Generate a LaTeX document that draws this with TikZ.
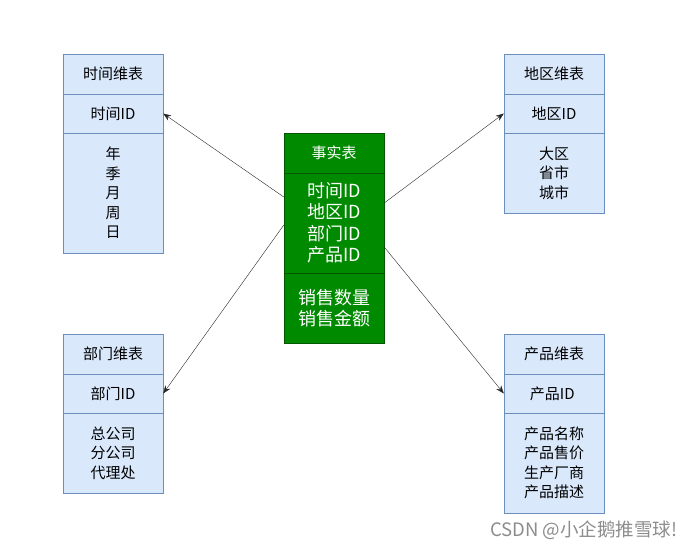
\documentclass[tikz,border=0pt]{standalone}
\usepackage{fontspec}
\setmainfont{Noto Sans CJK SC}
\usetikzlibrary{arrows.meta}
\definecolor{dimfill}{HTML}{DAE8FC}
\definecolor{dimline}{HTML}{6C8EBF}
\definecolor{factfill}{HTML}{008A00}
\definecolor{factline}{HTML}{005700}
\tikzset{
    dimrow/.style={draw=dimline, fill=dimfill, minimum width=100pt, inner sep=0pt,
        align=center, font=\fontsize{15}{19.5}\selectfont},
    factrow/.style={draw=factline, fill=factfill, text=white, minimum width=100pt,
        inner sep=0pt, align=center, font=\fontsize{18}{21.5}\selectfont},
    link/.style={draw=black!85, -{Stealth[length=8pt,width=6pt]}}
}
\begin{document}
\begin{tikzpicture}[
    x=1pt,
    y=-1pt
]
\useasboundingbox (0,0) rectangle (694,550);

% Dimension tables: title and key rows
\foreach \nm/\px/\py/\ttl/\kid in {
    time/113/54/时间维表/时间ID,
    area/554/54/地区维表/地区ID,
    dept/113/334/部门维表/部门ID,
    prod/554/334/产品维表/产品ID
} {
    \node[dimrow, minimum height=40pt] (\nm-head) at (\px,\py+20) {\ttl};
    \node[dimrow, minimum height=39pt] (\nm-key) at (\px,\py+59.5) {\kid};
}

% Dimension tables: attribute rows
\node[dimrow, minimum height=120pt] (time-body) at (113,193) {年\\季\\月\\周\\日};
\node[dimrow, minimum height=80pt] (area-body) at (554,173) {大区\\省市\\城市};
\node[dimrow, minimum height=80pt] (dept-body) at (113,453) {总公司\\分公司\\代理处};
\node[dimrow, minimum height=100pt] (prod-body) at (554,463) {产品名称\\产品售价\\生产厂商\\产品描述};

% Fact table
\node[factrow, minimum height=40pt, font=\fontsize{15}{18}\selectfont] (fact-head) at (334,153) {事实表};
\node[factrow, minimum height=100pt] (fact-keys) at (334,223)
    {时间ID\\地区ID\\部门ID\\产品ID};
\node[factrow, minimum height=70pt] (fact-vals) at (334,308)
    {销售数量\\销售金额};

% Links
\draw[link] ([yshift=26pt]fact-keys.west) -- (time-key.east);
\draw[link] ([yshift=-2pt]fact-keys.west) -- (dept-key.east);
\draw[link] ([yshift=20pt]fact-keys.east) -- (area-key.west);
\draw[link] ([yshift=-24pt]fact-keys.east) -- (prod-key.west);

% Watermark
\node[anchor=east, text=black!45, font=\fontsize{18.5}{21}\selectfont] (mark) at (681,530)
    {CSDN @小企鹅推雪球!};

\end{tikzpicture}
\end{document}
